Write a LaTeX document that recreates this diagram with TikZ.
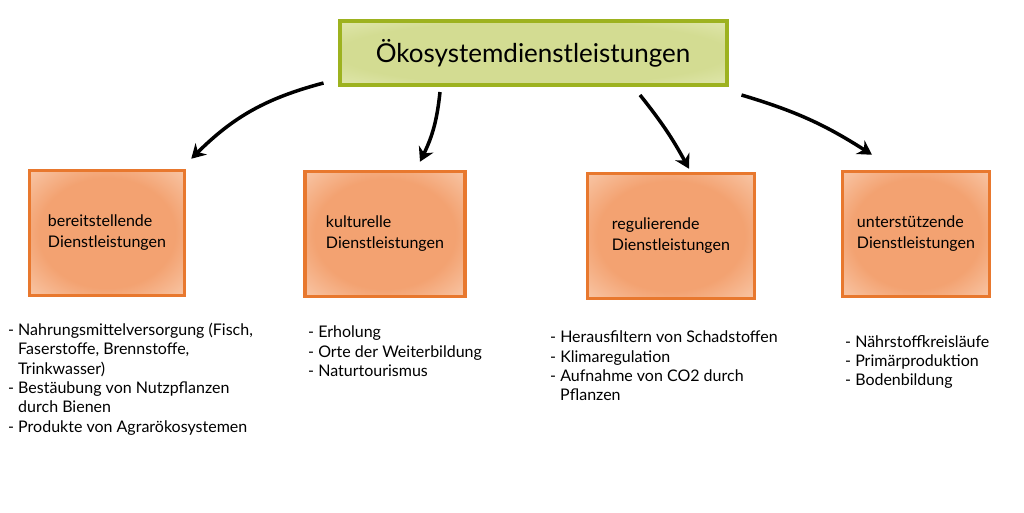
\documentclass[tikz,border=0pt]{standalone}
\usepackage{fontspec}
\setmainfont{Lato}
\usepackage{xcolor}
\usepackage{tikz}
\usetikzlibrary{arrows.meta}

\definecolor{boxedge}{HTML}{E8782E}
\definecolor{boxcore}{HTML}{F3A271}
\definecolor{boxrim}{HTML}{FCE2CF}
\definecolor{titleedge}{HTML}{9DB21F}
\definecolor{titlecore}{HTML}{D3DC92}
\definecolor{titlerim}{HTML}{EFF3CC}

\pgfdeclareradialshading{boxglow}{\pgfpoint{0bp}{0bp}}{color(0bp)=(boxcore);
  color(22bp)=(boxcore); color(46bp)=(boxrim); color(50bp)=(boxrim)}
\pgfdeclareradialshading{titleglow}{\pgfpoint{0bp}{0bp}}{color(0bp)=(titlecore);
  color(25bp)=(titlecore); color(47bp)=(titlerim); color(50bp)=(titlerim)}

\newcommand{\contd}{\hphantom{-\ }}

\tikzset{
  titlebox/.style={draw=titleedge, line width=4pt, shading=titleglow,
    minimum width=387, minimum height=64,
    font=\fontsize{26}{30}\selectfont},
  servicebox/.style={draw=boxedge, line width=3.5pt, shading=boxglow,
    minimum height=125, align=left,
    font=\fontsize{16}{21}\selectfont},
  itemlist/.style={anchor=north west, inner sep=0pt, align=left,
    font=\fontsize{16}{19.3}\selectfont},
  flowarrow/.style={line width=3.5pt, -{Stealth[length=14pt,width=16pt]}}
}

\begin{document}
\begin{tikzpicture}[x=1pt, y=-1pt]
  \useasboundingbox (0,0) rectangle (1024,512);
  \node[titlebox] (top) at (533,53) {Ökosystemdienstleistungen};
  % the four kinds of services
  \foreach \n/\x/\y/\w/\t in {prov/107/233/155/bereitstellende,
                              cult/385/234/160/kulturelle,
                              regl/671/236/167/regulierende,
                              supp/916/234/147/unterstützende}{
    \node[servicebox, minimum width=\w] (\n) at (\x,\y) {\t\\Dienstleistungen};}
  \draw[flowarrow] ([xshift=-14pt,yshift=4pt]top.south west) to[bend right=15]
    ([xshift=5pt,yshift=10pt]prov.north east);
  \draw[flowarrow] ([xshift=-93pt,yshift=-5pt]top.south) to[bend left=10]
    ([xshift=35pt,yshift=8pt]cult.north);
  \draw[flowarrow] ([xshift=107pt,yshift=-8pt]top.south) to[bend left=5]
    ([xshift=18pt,yshift=3pt]regl.north);
  \draw[flowarrow] ([xshift=13pt,yshift=-8pt]top.south east) to[bend left=8]
    ([xshift=-44pt,yshift=15pt]supp.north);
  % examples below each box
  \node[itemlist] (provlist) at (8,323) {- Nahrungsmittelversorgung (Fisch,\\
    \contd Faserstoffe, Brennstoffe,\\ \contd Trinkwasser)\\
    - Bestäubung von Nutzpflanzen\\ \contd durch Bienen\\
    - Produkte von Agrarökosystemen};
  \node[itemlist] (cultlist) at (308,326) {- Erholung\\
    - Orte der Weiterbildung\\ - Naturtourismus};
  \node[itemlist] (regllist) at (550,331) {- Herausfiltern von Schadstoffen\\
    - Klimaregulation\\ - Aufnahme von CO2 durch\\ \contd Pflanzen};
  \node[itemlist] (supplist) at (845,335) {- Nährstoffkreisläufe\\
    - Primärproduktion\\ - Bodenbildung};
\end{tikzpicture}
\end{document}
